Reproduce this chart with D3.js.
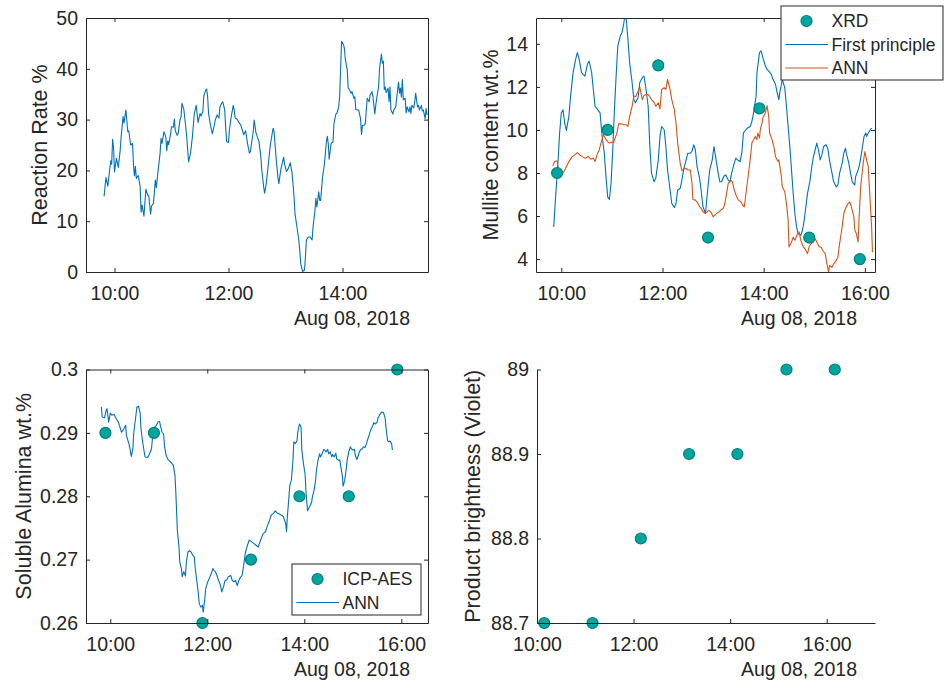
<!DOCTYPE html>
<meta charset="utf-8">
<title>Process monitoring, Aug 08 2018</title>
<style>
body { margin: 0; background: #fff; }
svg text { font-family: "Liberation Sans", Arial, Helvetica, sans-serif; fill: #262626; }
.axis path, .axis line { stroke: #262626; stroke-width: 1; }
.axis text { font-size: 19.5px; }
.ylab { font-size: 21.5px; }
.leg text { font-size: 17.5px; }
.line { fill: none; stroke-width: 1.1; stroke-linejoin: round; }
.pt { fill: #00a5a0; stroke: #00807c; stroke-width: 1.2; }
</style>
<body>
<script src="https://cdn.jsdelivr.net/npm/d3@7"></script>
<script>

// reaction rate %, [time, value]
var rateData = [["9:49",14.9],["9:51",18.6],["9:53",16.9],["9:56",21.9],["9:57",21.2],["9:58",26.1],["9:59",24.5],["10:00",19.7],["10:02",22.4],["10:04",20.6],["10:06",24.0],["10:07",26.6],["10:09",30.6],["10:10",29.3],["10:12",31.9],["10:14",27.6],["10:15",27.8],["10:17",25.0],["10:19",25.3],["10:20",21.0],["10:21",18.9],["10:22",20.8],["10:23",18.4],["10:25",19.0],["10:27",16.8],["10:28",11.8],["10:29",13.2],["10:31",11.0],["10:33",16.3],["10:35",15.1],["10:36",15.1],["10:38",11.4],["10:39",13.0],["10:41",13.5],["10:43",18.1],["10:44",16.6],["10:46",20.1],["10:48",23.4],["10:49",26.3],["10:50",25.3],["10:52",27.6],["10:54",26.6],["10:55",23.9],["10:56",25.8],["10:57",25.1],["10:59",27.2],["11:00",28.6],["11:02",28.5],["11:03",30.1],["11:04",27.8],["11:06",26.9],["11:07",27.3],["11:09",30.0],["11:10",30.5],["11:11",33.2],["11:13",32.0],["11:15",28.6],["11:16",26.6],["11:18",21.7],["11:20",23.4],["11:22",26.6],["11:24",31.2],["11:26",32.8],["11:28",29.4],["11:30",31.2],["11:31",30.7],["11:33",31.6],["11:34",34.7],["11:35",35.2],["11:36",35.8],["11:37",36.0],["11:38",34.6],["11:39",31.2],["11:41",28.9],["11:43",27.2],["11:45",28.9],["11:46",29.9],["11:48",30.9],["11:50",30.3],["11:51",32.5],["11:53",33.3],["11:54",33.5],["11:56",31.9],["11:57",28.6],["11:58",25.7],["12:00",25.5],["12:01",28.0],["12:03",30.7],["12:05",32.8],["12:06",31.9],["12:07",30.3],["12:09",30.1],["12:11",29.4],["12:13",28.9],["12:14",28.3],["12:16",27.0],["12:18",27.8],["12:19",26.6],["12:20",25.3],["12:22",23.4],["12:23",23.7],["12:26",27.6],["12:27",29.9],["12:29",27.3],["12:30",26.8],["12:32",25.7],["12:34",22.8],["12:35",20.1],["12:37",16.8],["12:38",15.5],["12:40",17.8],["12:42",21.4],["12:44",25.0],["12:46",27.3],["12:47",28.3],["12:48",27.6],["12:50",22.7],["12:52",18.7],["12:53",17.4],["12:55",20.1],["12:58",22.6],["12:59",21.3],["13:01",19.8],["13:03",20.4],["13:05",21.5],["13:07",19.4],["13:09",14.8],["13:10",11.5],["13:12",8.9],["13:14",6.3],["13:15",4.3],["13:16",1.7],["13:18",0.1],["13:20",0.4],["13:21",3.0],["13:22",6.3],["13:24",6.9],["13:26",6.9],["13:28",6.3],["13:29",8.9],["13:31",12.1],["13:32",14.5],["13:33",12.8],["13:35",15.8],["13:36",14.1],["13:37",14.1],["13:39",18.7],["13:41",21.3],["13:43",25.6],["13:44",26.7],["13:45",25.3],["13:46",22.2],["13:48",25.3],["13:50",25.6],["13:51",29.2],["13:53",31.1],["13:54",31.2],["13:56",32.5],["13:57",34.6],["13:58",39.8],["13:59",45.4],["14:01",44.8],["14:02",44.0],["14:03",41.8],["14:05",39.8],["14:06",36.2],["14:07",36.0],["14:09",35.2],["14:10",35.5],["14:12",34.2],["14:13",34.5],["14:14",32.0],["14:16",31.9],["14:17",31.9],["14:19",30.2],["14:20",27.1],["14:21",28.9],["14:23",28.9],["14:24",29.2],["14:26",34.2],["14:28",33.5],["14:29",34.8],["14:31",35.5],["14:32",34.6],["14:34",31.1],["14:35",32.8],["14:36",34.2],["14:38",36.5],["14:39",40.1],["14:41",42.9],["14:42",41.1],["14:43",41.5],["14:44",35.9],["14:45",36.4],["14:46",35.3],["14:48",36.2],["14:49",33.5],["14:50",36.4],["14:51",31.9],["14:53",31.1],["14:54",31.9],["14:56",32.5],["14:57",34.2],["14:59",37.4],["15:00",35.2],["15:01",36.2],["15:02",34.4],["15:03",37.9],["15:04",33.9],["15:06",34.2],["15:07",31.3],["15:08",32.5],["15:10",31.5],["15:11",32.5],["15:12",31.2],["15:13",32.8],["15:15",32.3],["15:16",33.5],["15:17",35.2],["15:19",32.5],["15:20",32.8],["15:21",31.9],["15:23",32.8],["15:24",31.7],["15:25",31.9],["15:27",30.2],["15:28",32.2],["15:29",30.9]];

// mullite content wt.% - first principle model
var mulliteFP = [["9:51",5.49],["9:53",6.74],["9:56",8.45],["9:58",9.86],["10:00",10.79],["10:02",10.94],["10:04",10.32],["10:06",9.98],["10:09",10.63],["10:11",11.57],["10:14",12.66],["10:17",13.28],["10:19",13.59],["10:21",13.31],["10:24",12.66],["10:26",12.58],["10:28",12.5],["10:31",13.05],["10:33",13.2],["10:36",12.66],["10:38",11.88],["10:40",11.1],["10:43",10.94],["10:46",10.79],["10:48",9.86],["10:51",8.92],["10:53",7.83],["10:55",6.89],["10:57",6.77],["10:59",7.52],["11:01",9.07],["11:03",10.94],["11:05",12.5],["11:07",13.9],["11:10",14.37],["11:12",14.53],["11:14",14.92],["11:15",15.2],["11:17",15.15],["11:19",14.21],["11:21",13.13],["11:24",12.19],["11:26",11.41],["11:28",11.26],["11:31",11.49],["11:33",12.19],["11:36",12.43],["11:38",12.5],["11:40",12.03],["11:43",11.1],["11:45",9.23],["11:47",7.99],["11:50",7.59],["11:52",7.75],["11:55",8.61],["11:57",9.7],["11:59",10.16],["12:02",10.01],["12:04",9.23],["12:06",8.14],["12:09",7.21],["12:11",6.58],["12:14",6.4],["12:16",6.58],["12:18",7.21],["12:21",7.29],["12:23",7.67],["12:25",8.14],["12:28",8.61],["12:30",8.92],["12:33",8.92],["12:35",9.0],["12:37",9.31],["12:39",9.07],["12:41",8.29],["12:44",7.75],["12:46",7.13],["12:48",6.43],["12:51",6.12],["12:53",7.0],["12:56",8.14],["12:59",8.61],["13:01",9.23],["13:03",8.76],["13:06",7.99],["13:08",7.59],["13:10",7.59],["13:13",7.86],["13:15",7.91],["13:18",7.67],["13:20",7.59],["13:22",7.99],["13:25",8.45],["13:27",8.69],["13:29",8.61],["13:32",8.53],["13:34",8.92],["13:36",9.86],["13:39",10.01],["13:41",10.09],["13:44",10.16],["13:46",10.4],["13:48",10.79],["13:51",11.57],["13:52",12.66],["13:54",13.28],["13:55",13.59],["13:57",13.67],["13:59",13.36],["14:02",12.97],["14:04",12.81],["14:06",12.73],["14:09",12.58],["14:11",12.35],["14:14",12.11],["14:16",11.72],["14:18",11.41],["14:19",11.72],["14:21",12.11],["14:22",12.35],["14:25",11.96],["14:27",11.1],["14:29",10.16],["14:31",9.23],["14:33",8.14],["14:35",7.05],["14:37",6.12],["14:39",5.49],["14:41",5.18],["14:44",5.1],["14:46",5.34],["14:48",5.8],["14:50",6.43],["14:52",7.05],["14:55",7.67],["14:57",8.29],["14:59",8.76],["15:02",9.23],["15:03",9.39],["15:05",9.07],["15:07",8.61],["15:09",8.84],["15:11",9.23],["15:14",9.31],["15:16",9.15],["15:18",8.61],["15:21",7.99],["15:23",7.59],["15:26",7.36],["15:28",7.44],["15:30",7.99],["15:33",8.45],["15:35",8.92],["15:37",9.15],["15:38",8.92],["15:41",8.45],["15:43",7.99],["15:45",7.59],["15:48",7.44],["15:49",7.83],["15:52",8.14],["15:54",8.45],["15:56",8.92],["15:59",9.7],["16:01",9.86],["16:02",9.7],["16:04",9.86],["16:06",9.98],["16:08",10.09]];

// mullite content wt.% - ANN model
var mulliteANN = [["9:50",8.33],["9:52",8.53],["9:55",8.57],["9:56",8.29],["9:58",7.99],["10:00",7.91],["10:03",8.06],["10:06",8.29],["10:09",8.53],["10:13",8.76],["10:16",8.84],["10:19",8.95],["10:22",8.84],["10:25",8.76],["10:28",8.69],["10:32",8.76],["10:35",8.64],["10:38",8.69],["10:40",8.53],["10:43",8.92],["10:45",9.07],["10:47",9.39],["10:50",9.78],["10:52",9.62],["10:55",9.46],["10:57",9.39],["10:59",9.42],["11:02",9.42],["11:06",9.86],["11:08",10.28],["11:11",10.29],["11:14",10.24],["11:17",10.24],["11:19",10.16],["11:21",10.63],["11:24",11.1],["11:26",11.57],["11:28",11.54],["11:31",11.8],["11:33",12.0],["11:36",11.41],["11:38",11.6],["11:40",11.64],["11:43",11.64],["11:45",11.54],["11:47",11.41],["11:50",11.28],["11:52",11.1],["11:55",11.26],["11:57",10.98],["11:59",11.88],["12:02",11.96],["12:04",11.88],["12:06",12.35],["12:09",11.88],["12:11",11.41],["12:14",10.94],["12:16",10.32],["12:18",9.39],["12:21",8.45],["12:23",8.11],["12:25",8.17],["12:28",8.22],["12:30",8.14],["12:33",8.14],["12:35",7.52],["12:36",6.77],["12:39",6.74],["12:41",6.66],["12:44",6.43],["12:46",6.35],["12:48",6.2],["12:51",6.12],["12:53",6.19],["12:55",6.27],["12:58",6.15],["13:00",5.96],["13:02",6.04],["13:05",6.15],["13:07",6.19],["13:10",6.3],["13:12",6.35],["13:14",6.58],["13:16",7.05],["13:18",7.52],["13:21",7.67],["13:23",7.59],["13:25",7.21],["13:28",6.89],["13:30",6.74],["13:33",6.66],["13:35",6.5],["13:37",6.43],["13:40",7.36],["13:42",7.99],["13:44",8.61],["13:46",9.39],["13:48",9.54],["13:50",9.7],["13:52",9.54],["13:53",9.86],["13:55",9.62],["13:56",10.01],["13:58",10.32],["13:59",10.56],["14:02",10.79],["14:04",11.13],["14:06",10.63],["14:07",9.86],["14:10",9.54],["14:12",9.23],["14:14",8.76],["14:17",8.53],["14:18",8.61],["14:21",7.83],["14:22",7.36],["14:25",7.13],["14:27",6.58],["14:29",5.8],["14:30",4.56],["14:33",4.79],["14:35",5.02],["14:37",4.87],["14:40",5.18],["14:42",5.26],["14:44",4.87],["14:47",4.56],["14:49",4.48],["14:52",4.25],["14:54",4.59],["14:56",4.71],["14:59",4.79],["15:01",4.95],["15:03",4.79],["15:06",4.56],["15:08",4.56],["15:10",4.4],["15:13",4.25],["15:15",3.78],["15:17",3.4],["15:18",3.7],["15:21",3.62],["15:23",3.78],["15:26",3.93],["15:28",4.09],["15:30",4.71],["15:33",5.49],["15:35",6.12],["15:37",6.35],["15:40",6.58],["15:42",6.66],["15:44",6.43],["15:47",5.96],["15:48",5.34],["15:50",5.18],["15:52",4.79],["15:53",5.8],["15:55",7.36],["15:58",8.45],["16:00",9.0],["16:02",8.61],["16:04",8.29],["16:06",6.89],["16:08",5.49],["16:09",4.32]];

var xrdTimes = ["9:55","10:55","11:55","12:54","13:55","14:54","15:54"];
var xrdValues = [8, 10, 13, 5, 11, 5, 4];

// soluble alumina wt.% - ANN model
var aluminaANN = [["9:49",0.2941],["9:50",0.2925],["9:53",0.2924],["9:55",0.2936],["9:56",0.2938],["9:58",0.2917],["10:00",0.2931],["10:02",0.2928],["10:05",0.2929],["10:07",0.2923],["10:10",0.2917],["10:12",0.2909],["10:14",0.2901],["10:17",0.2907],["10:19",0.2912],["10:20",0.2896],["10:23",0.2883],["10:24",0.2878],["10:26",0.2863],["10:28",0.2875],["10:29",0.2899],["10:31",0.292],["10:33",0.2941],["10:35",0.2942],["10:37",0.2931],["10:38",0.2907],["10:40",0.2886],["10:42",0.287],["10:43",0.2862],["10:46",0.2861],["10:48",0.2865],["10:51",0.2875],["10:53",0.2902],["10:55",0.2909],["10:57",0.2912],["10:59",0.2917],["11:01",0.2918],["11:02",0.2912],["11:04",0.2901],["11:06",0.2898],["11:07",0.288],["11:09",0.2865],["11:11",0.2859],["11:12",0.2857],["11:14",0.2855],["11:16",0.2852],["11:18",0.2849],["11:20",0.2833],["11:21",0.2809],["11:22",0.2778],["11:23",0.2746],["11:25",0.272],["11:26",0.2696],["11:28",0.2686],["11:29",0.2673],["11:31",0.2681],["11:33",0.2674],["11:34",0.2694],["11:36",0.2712],["11:38",0.2714],["11:40",0.2712],["11:42",0.2707],["11:44",0.2704],["11:45",0.2688],["11:47",0.2667],["11:49",0.2646],["11:50",0.2631],["11:52",0.2625],["11:54",0.2628],["11:55",0.2617],["11:57",0.2639],["11:58",0.2654],["12:00",0.2663],["12:03",0.2672],["12:05",0.2678],["12:07",0.2686],["12:08",0.2683],["12:10",0.2681],["12:12",0.2675],["12:14",0.2667],["12:16",0.2661],["12:18",0.2649],["12:20",0.2657],["12:22",0.2667],["12:24",0.2668],["12:26",0.2673],["12:29",0.2675],["12:31",0.2667],["12:33",0.2665],["12:35",0.2667],["12:37",0.2659],["12:39",0.2667],["12:41",0.2672],["12:43",0.2675],["12:45",0.2691],["12:47",0.271],["12:49",0.272],["12:52",0.2731],["12:55",0.2728],["12:57",0.2726],["13:00",0.2723],["13:03",0.272],["13:06",0.2731],["13:09",0.2741],["13:12",0.2744],["13:14",0.2752],["13:17",0.2762],["13:19",0.277],["13:22",0.2773],["13:24",0.2777],["13:27",0.2773],["13:29",0.2772],["13:32",0.277],["13:34",0.2768],["13:37",0.2757],["13:38",0.2744],["13:39",0.2767],["13:41",0.2799],["13:42",0.2817],["13:44",0.2825],["13:46",0.2857],["13:47",0.2886],["13:49",0.2883],["13:51",0.2888],["13:52",0.2902],["13:54",0.2914],["13:56",0.2909],["13:57",0.2872],["13:59",0.2851],["14:01",0.2835],["14:02",0.2809],["14:04",0.2777],["14:05",0.278],["14:07",0.2785],["14:09",0.279],["14:10",0.2799],["14:12",0.2809],["14:14",0.2825],["14:15",0.2841],["14:17",0.2857],["14:19",0.2867],["14:20",0.2862],["14:22",0.2867],["14:24",0.2874],["14:25",0.2873],["14:27",0.287],["14:29",0.2874],["14:30",0.2867],["14:32",0.287],["14:34",0.2862],["14:35",0.2866],["14:37",0.2862],["14:39",0.2868],["14:40",0.2859],["14:42",0.2857],["14:44",0.2857],["14:45",0.2848],["14:47",0.2833],["14:48",0.2816],["14:50",0.2825],["14:52",0.2844],["14:53",0.2857],["14:55",0.287],["14:57",0.2878],["14:58",0.2875],["15:00",0.2873],["15:02",0.2874],["15:03",0.2865],["15:05",0.2858],["15:07",0.2865],["15:08",0.287],["15:10",0.2874],["15:12",0.2875],["15:13",0.2878],["15:15",0.2877],["15:17",0.2883],["15:18",0.2888],["15:20",0.2896],["15:22",0.2904],["15:23",0.2907],["15:25",0.2912],["15:26",0.2916],["15:28",0.2914],["15:30",0.2917],["15:31",0.2923],["15:33",0.2928],["15:35",0.2932],["15:36",0.2933],["15:38",0.2932],["15:40",0.2923],["15:41",0.2909],["15:43",0.2888],["15:44",0.2886],["15:46",0.2887],["15:48",0.2883],["15:49",0.2873]];

var icpTimes = ["9:54","10:54","11:54","12:54","13:54","14:55","15:55"];
var icpValues = [0.29, 0.29, 0.26, 0.27, 0.28, 0.28, 0.30];

var brightTimes = ["10:09","11:09","12:09","13:09","14:09","15:10","16:10"];
var brightValues = [88.7, 88.7, 88.8, 88.9, 88.9, 89, 89];

var ticks6 = ["10:00","12:00","14:00"];
var ticks8 = ["10:00","12:00","14:00","16:00"];

var blue = "#0072bd", orange = "#d95319";
var width = 945, height = 686;

var svg = d3.select("body").append("svg")
    .attr("width", width)
    .attr("height", height);

function toDate(s) {
  var p = s.split(":");
  return new Date(2018, 7, 8, +p[0], +p[1]);
}

var clipId = 0;

function panel(o) {
  var x = d3.scaleTime()
      .domain([toDate(o.xdom[0]), toDate(o.xdom[1])])
      .range([o.left, o.right]);
  var y = d3.scaleLinear()
      .domain(o.ydom)
      .range([o.bottom, o.top]);
  var g = svg.append("g");
  var xt = o.xticks.map(toDate);

  clipId++;
  g.append("clipPath").attr("id", "clip" + clipId)
    .append("rect")
      .attr("x", o.left).attr("y", o.top)
      .attr("width", o.right - o.left).attr("height", o.bottom - o.top);

  var plot = g.append("g").attr("clip-path", "url(#clip" + clipId + ")");

  var line = d3.line()
      .x(function(d) { return x(toDate(d[0])); })
      .y(function(d) { return y(d[1]); });

  (o.lines || []).forEach(function(l) {
    plot.append("path")
        .datum(l.data)
        .attr("class", "line")
        .attr("stroke", l.color)
        .attr("d", line);
  });

  if (o.pts) {
    g.selectAll(null)
      .data(o.pts.t)
      .enter().append("circle")
        .attr("class", "pt")
        .attr("cx", function(d) { return x(toDate(d)); })
        .attr("cy", function(d, i) { return y(o.pts.v[i]); })
        .attr("r", 5.5);
  }

  var xa = g.append("g").attr("class", "axis")
      .attr("transform", "translate(0," + o.bottom + ")")
      .call(d3.axisBottom(x).tickValues(xt).tickFormat(d3.timeFormat("%H:%M"))
        .tickSizeInner(-4).tickSizeOuter(0).tickPadding(14.5));
  var ya = g.append("g").attr("class", "axis")
      .attr("transform", "translate(" + o.left + ",0)")
      .call(d3.axisLeft(y).tickValues(o.yticks).tickFormat(function(d) { return String(d); })
        .tickSizeInner(-4).tickSizeOuter(0).tickPadding(8));

  if (o.box) {
    g.append("g").attr("class", "axis")
        .attr("transform", "translate(0," + o.top + ")")
        .call(d3.axisTop(x).tickValues(xt).tickFormat("").tickSizeInner(-4).tickSizeOuter(0));
    g.append("g").attr("class", "axis")
        .attr("transform", "translate(" + o.right + ",0)")
        .call(d3.axisRight(y).tickValues(o.yticks).tickFormat("").tickSizeInner(-4).tickSizeOuter(0));
  }

  g.selectAll(".axis").attr("font-family", null).attr("font-size", null);
  g.selectAll(".axis text").attr("fill", null);

  g.append("text")
      .attr("class", "axis")
      .attr("x", o.right - 18)
      .attr("y", o.bottom + 53)
      .attr("text-anchor", "end")
      .style("font-size", "19.5px")
      .text("Aug 08, 2018");

  g.append("text")
      .attr("class", "ylab")
      .attr("transform", "translate(" + o.labelX + "," + (o.top + o.bottom) / 2 + ") rotate(-90)")
      .attr("text-anchor", "middle")
      .attr("dy", "0.35em")
      .text(o.ylabel);

  return g;
}

function legend(g, box, items) {
  var lg = g.append("g").attr("class", "leg");
  lg.append("rect")
      .attr("x", box[0]).attr("y", box[1])
      .attr("width", box[2]).attr("height", box[3])
      .attr("fill", "#fff").attr("stroke", "#262626").attr("stroke-width", 1);
  items.forEach(function(it, i) {
    var cy = box[1] + 15 + i * 23.5;
    if (it.marker) {
      lg.append("circle").attr("class", "pt")
          .attr("cx", box[0] + 25.5).attr("cy", cy).attr("r", 5.5);
    } else {
      lg.append("line")
          .attr("x1", box[0] + 4.5).attr("x2", box[0] + 47)
          .attr("y1", cy).attr("y2", cy)
          .attr("stroke", it.color).attr("stroke-width", 1.1);
    }
    lg.append("text")
        .attr("x", box[0] + 50.5).attr("y", cy)
        .attr("dy", "0.35em")
        .text(it.label);
  });
}

panel({
  left: 86, right: 428, top: 18, bottom: 272,
  xdom: ["9:30", "15:30"], xticks: ticks6,
  ydom: [0, 50], yticks: [0, 10, 20, 30, 40, 50],
  ylabel: "Reaction Rate %", labelX: 39, box: true,
  lines: [{data: rateData, color: blue}]
});

var g2 = panel({
  left: 536, right: 875, top: 18, bottom: 272,
  xdom: ["9:30", "16:12"], xticks: ticks8,
  ydom: d3.extent(mulliteFP.concat(mulliteANN), function(d) { return d[1]; }),
  yticks: [4, 6, 8, 10, 12, 14],
  ylabel: "Mullite content wt.%", labelX: 490, box: true,
  lines: [{data: mulliteFP, color: blue}, {data: mulliteANN, color: orange}],
  pts: {t: xrdTimes, v: xrdValues}
});
legend(g2, [781, 6, 162, 74], [
  {label: "XRD", marker: true},
  {label: "First principle", color: blue},
  {label: "ANN", color: orange}
]);

var g3 = panel({
  left: 86, right: 428, top: 369.5, bottom: 623,
  xdom: ["9:30", "16:33"], xticks: ticks8,
  ydom: [0.26, 0.30], yticks: [0.26, 0.27, 0.28, 0.29, 0.3],
  ylabel: "Soluble Alumina wt.%", labelX: 23.5, box: true,
  lines: [{data: aluminaANN, color: blue}],
  pts: {t: icpTimes, v: icpValues}
});
legend(g3, [292, 564, 129, 51], [
  {label: "ICP-AES", marker: true},
  {label: "ANN", color: blue}
]);

panel({
  left: 537, right: 875, top: 369.5, bottom: 623,
  xdom: ["10:00", "17:00"], xticks: ticks8,
  ydom: [88.7, 89], yticks: [88.7, 88.8, 88.9, 89],
  ylabel: "Product brightness (Violet)", labelX: 472, box: false,
  pts: {t: brightTimes, v: brightValues}
});

</script>
